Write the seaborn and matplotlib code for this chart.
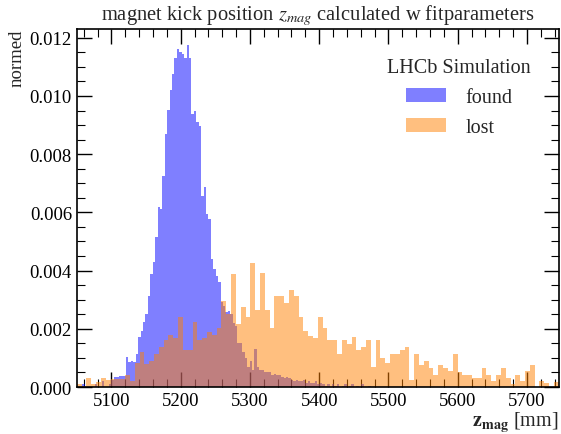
import numpy as np
import pandas as pd
import matplotlib
matplotlib.use("Agg")
import matplotlib.pyplot as plt
import seaborn as sns
from matplotlib.ticker import MultipleLocator

# ---------------- data ----------------
found_start = 5058.0
found_width = 3.5
found_heights = [
    0.0001, 0.0, 0.0, 0.0, 0.0, 0.0001, 0.0, 0.0, 0.0002, 0.0,
    0.0, 0.0001, 0.00023, 0.00035, 0.00035, 0.00038, 0.00038, 0.00038, 0.00103, 0.00086,
    0.00091, 0.00086, 0.00114, 0.00171, 0.00194, 0.00223, 0.00251, 0.00314, 0.00389, 0.00429,
    0.00515, 0.0062, 0.0061, 0.00726, 0.00871, 0.00951, 0.0102, 0.01075, 0.01132, 0.0116,
    0.01151, 0.01143, 0.0113, 0.01174, 0.0113, 0.00937, 0.00949, 0.00909, 0.00897, 0.00657,
    0.00686, 0.00594, 0.00577, 0.0044, 0.00406, 0.00383, 0.0036, 0.00292, 0.0028, 0.00257,
    0.0026, 0.0025, 0.0022, 0.0021, 0.0015, 0.0015, 0.0012, 0.0010, 0.0007, 0.0009,
    0.0006, 0.0013, 0.0007, 0.0006, 0.0006, 0.0005, 0.0005, 0.0005, 0.0004, 0.00045,
    0.0004, 0.0004, 0.00035, 0.0003, 0.00035, 0.0003, 0.00025, 0.0002, 0.00025, 0.0002,
    0.0002, 0.00025, 0.00015, 0.0002, 0.00015, 0.00015, 0.0002, 0.0001, 0.00015, 0.0001,
    0.00005, 0.0001, 0.0, 0.0001, 0.00005, 0.0001, 0.0, 0.00005, 0.0001, 0.0,
    0.00005, 0.0001, 0.0, 0.00005, 0.0, 0.0001, 0.0, 0.0, 0.00005, 0.0,
]

lost_start = 5050.0
lost_width = 6.96
lost_heights = [
    0.00011, 0.00005, 0.00031, 0.00011, 0.00017, 0.00031, 0.00023, 0.00029, 0.00029, 0.00029,
    0.00042, 0.0002, 0.00082, 0.0012, 0.0008, 0.0009, 0.00114, 0.00137, 0.0016, 0.0018,
    0.0017, 0.0024, 0.00126, 0.00126, 0.00225, 0.0016, 0.00168, 0.0019, 0.0018, 0.00202,
    0.00297, 0.00251, 0.00389, 0.00217, 0.00274, 0.0024, 0.00425, 0.00265, 0.00392, 0.00265,
    0.00203, 0.00312, 0.00312, 0.00289, 0.00335, 0.00312, 0.0024, 0.00194, 0.00175, 0.00168,
    0.0024, 0.00203, 0.00163, 0.00163, 0.00114, 0.0016, 0.00149, 0.00172, 0.00126, 0.00137,
    0.0016, 0.00069, 0.0016, 0.001, 0.00083, 0.00114, 0.00114, 0.00126, 0.00137, 0.00023,
    0.00114, 0.00076, 0.00091, 0.00066, 0.00043, 0.00076, 0.00066, 0.00055, 0.00114, 0.00051,
    0.00043, 0.00043, 0.00031, 0.00031, 0.00065, 0.00043, 0.0002, 0.00043, 0.00065, 0.00031,
    0.00011, 0.00043, 0.0002, 0.00054, 0.00076, 0.0, 0.0002, 0.00013, 0.0, 0.00017,
]

series_labels = ["found", "lost"]
title_text = r"magnet kick position $z_{mag}$ calculated w fitparameters"
xlabel_text = r"$\mathbf{z_{mag}}$ [mm]"
ylabel_text = "normed"
legend_title = "LHCb Simulation"

# ---------------- build tables ----------------
f_edges = list(found_start + found_width * np.arange(len(found_heights) + 1))
l_edges = list(lost_start + lost_width * np.arange(len(lost_heights) + 1))
df_found = pd.DataFrame({"z": [(a + b) / 2 for a, b in zip(f_edges[:-1], f_edges[1:])],
                         "w": found_heights})
df_lost = pd.DataFrame({"z": [(a + b) / 2 for a, b in zip(l_edges[:-1], l_edges[1:])],
                        "w": lost_heights})

# ---------------- style ----------------
sns.set_style("ticks")
plt.rcParams["font.family"] = ["Liberation Serif", "DejaVu Serif"]
plt.rcParams["mathtext.fontset"] = "stix"
plt.rcParams["font.size"] = 13

fig = plt.figure(figsize=(5.61, 4.35), dpi=100)
ax = fig.add_axes([0.137, 0.108, 0.859, 0.823])

sns.histplot(data=df_found, x="z", weights="w", bins=f_edges, stat="count",
             color=(0, 0, 1), alpha=0.5, linewidth=0, label=series_labels[0], ax=ax)
sns.histplot(data=df_lost, x="z", weights="w", bins=l_edges, stat="count",
             color=(1, 0.5, 0), alpha=0.5, linewidth=0, label=series_labels[1], ax=ax)

ax.set_xlim(l_edges[0], l_edges[-1])
ax.set_ylim(0, 0.0123)

ax.xaxis.set_major_locator(MultipleLocator(100))
ax.xaxis.set_minor_locator(MultipleLocator(20))
ax.yaxis.set_major_locator(MultipleLocator(0.002))
ax.yaxis.set_minor_locator(MultipleLocator(0.0005))
ax.yaxis.set_major_formatter(matplotlib.ticker.FormatStrFormatter("%.3f"))

ax.tick_params(which="both", direction="in", top=True, right=True, labelsize=13.5, colors="black")
ax.tick_params(which="major", length=11, width=1.0)
ax.tick_params(which="minor", length=5.8, width=0.8)
for s in ax.spines.values():
    s.set_linewidth(1.2)
    s.set_color("black")

ax.set_title(title_text, fontsize=14.8, pad=7)
ax.set_xlabel(xlabel_text, loc="right", fontsize=14.5, labelpad=1)
ax.set_ylabel(ylabel_text, loc="top", fontsize=13.5, labelpad=3)

ax.legend(title=legend_title, frameon=False, loc="upper right",
          bbox_to_anchor=(0.98, 0.97), fontsize=14.5, title_fontsize=14.5,
          handlelength=2.0, handleheight=0.65, labelspacing=0.55, handletextpad=0.95)

fig.savefig("out.png", dpi=100)
